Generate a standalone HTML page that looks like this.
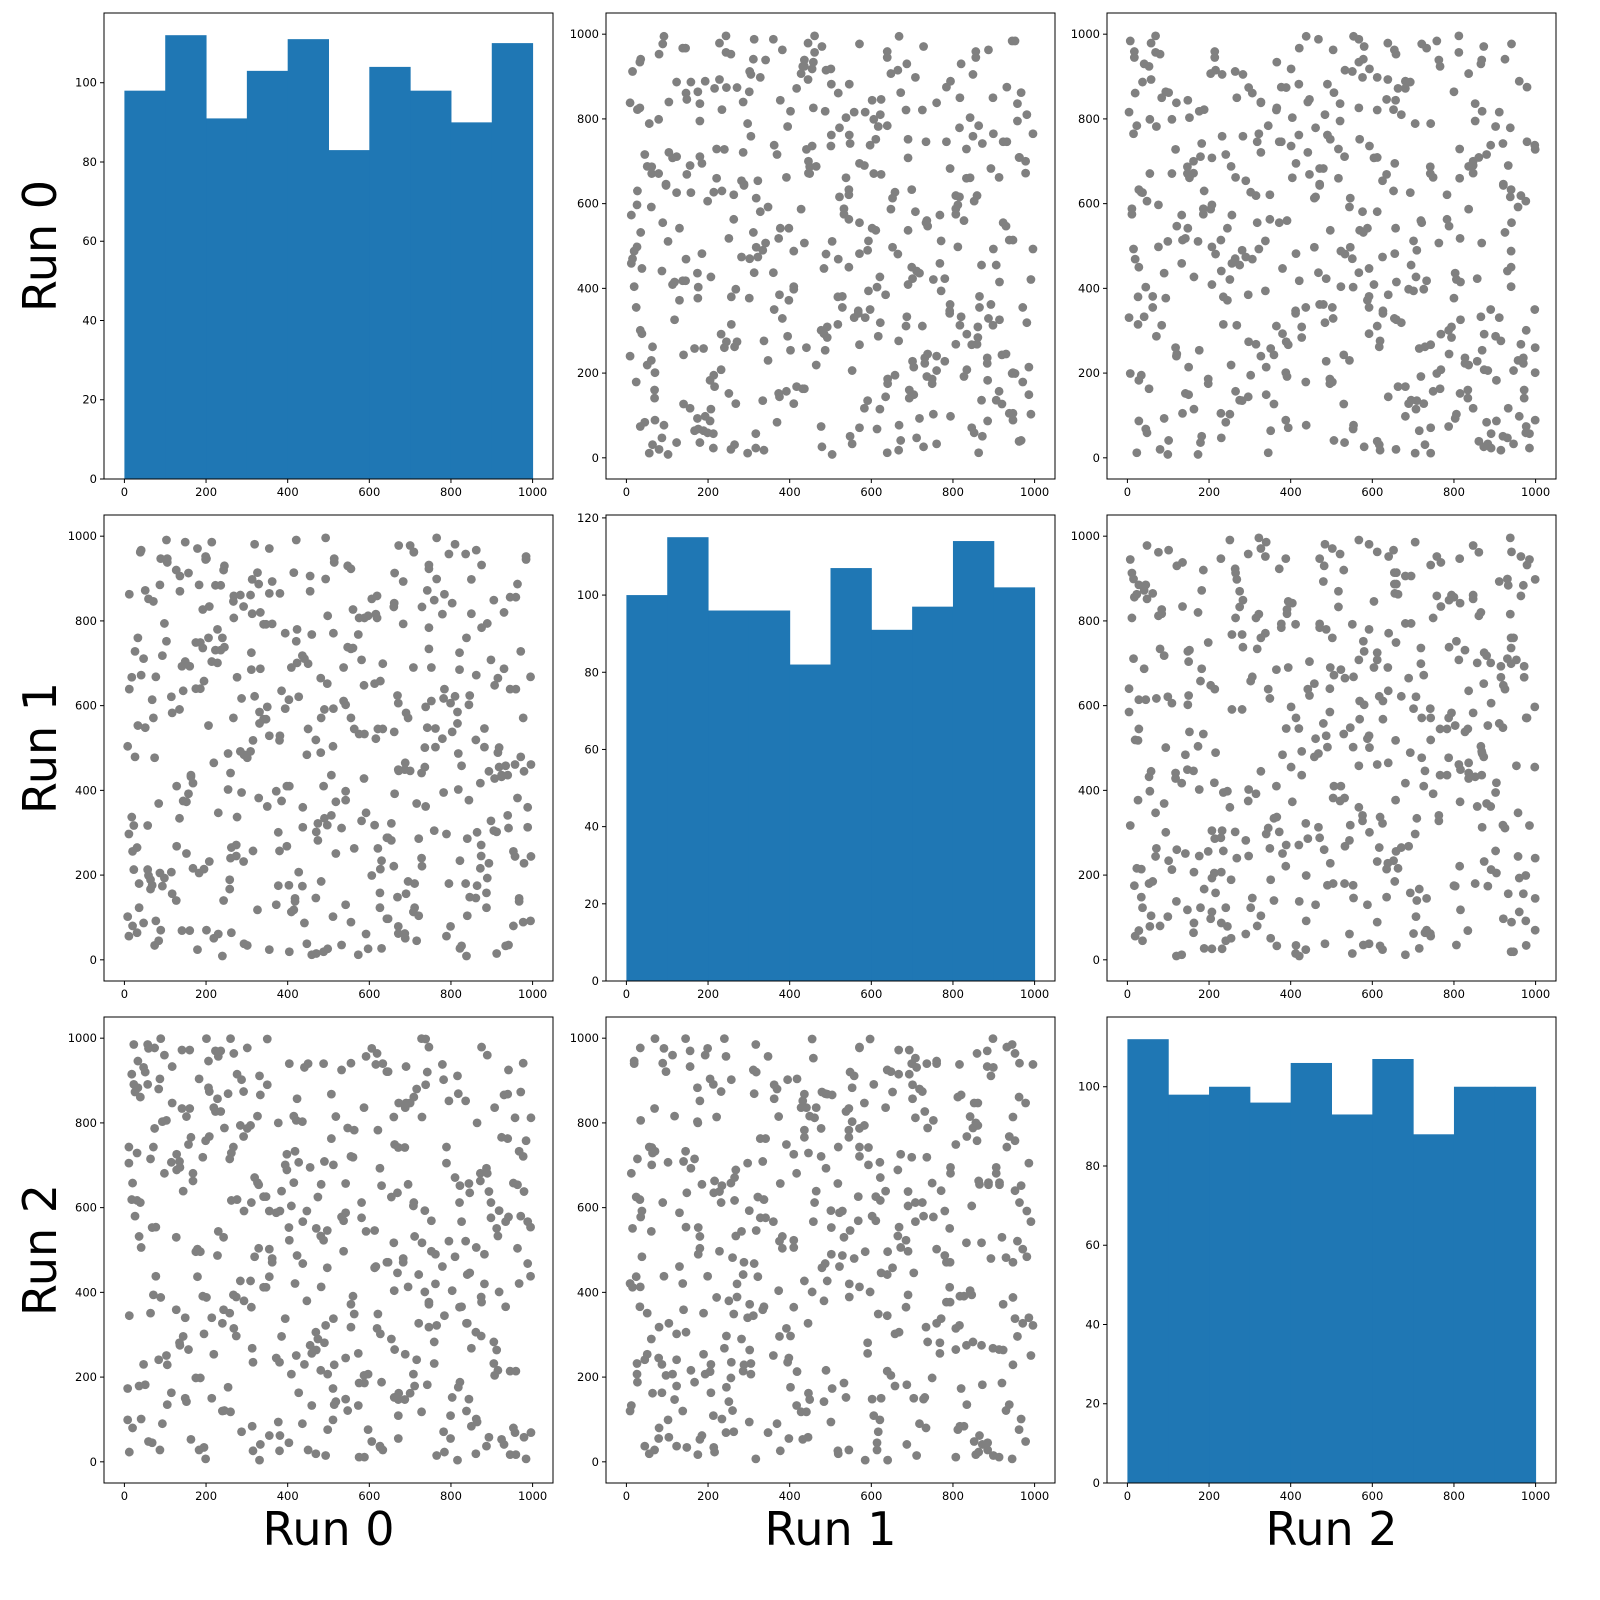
<!DOCTYPE html>
<html><head><meta charset="utf-8"><style>
html,body{margin:0;padding:0;background:#fff}
svg{display:block;font-family:"DejaVu Sans","Liberation Sans",sans-serif}
</style></head><body>
<svg id="chart" width="1600" height="1600" viewBox="0 0 1600 1600" xmlns="http://www.w3.org/2000/svg"></svg>
<script>
const runLabels = ["Run 0","Run 1","Run 2"];
const hist0 = [98,112,91,103,111,83,104,98,90,110];
const hist1 = [100,115,96,96,82,107,91,97,114,102];
const hist2 = [112,98,100,96,106,93,107,88,100,100];
const xTicks = [0,200,400,600,800,1000];
const scatterYTicks = [0,200,400,600,800,1000];
const run0 = [512,87,934,245,671,403,18,759,326,882,141,597,963,274,450,709,36,818,192,555,627,988,313,74,846,421,260,695,149,532,907,381,11,784,643,228,469,872,105,350,995,573,208,736,59,490,311,864,672,127,404,945,262,588,33,721,810,157,436,979,293,619,84,752,518,199,887,347,661,23,915,470,236,799,128,555,690,372,41,953,284,616,822,175,507,765,64,331,898,441,219,683,957,115,385,746,592,8,836,267,474,930,163,708,355,51,621,889,240,497,782,136,418,971,315,660,89,542,844,201,729,380,26,967,455,287,613,838,98,563,742,179,409,924,333,654,71,795,511,230,875,144,427,996,362,688,47,581,816,258,493,939,186,630,779,309,20,862,542,117,746,398,671,223,912,481,57,803,341,626,984,152,537,716,268,447,893,93,662,319,840,206,575,31,959,488,243,700,377,821,135,606,918,292,459,77,738,514,168,861,423,646,12,789,355,587,941,214,482,728,103,669,301,850,437,195,977,560,254,711,39,633,874,329,498,160,762,415,905,276,68,687,547,826,183,394];
const run1 = [771,205,458,930,62,614,337,849,118,502,693,26,887,271,545,962,180,402,736,89,658,313,817,477,148,991,240,571,704,35,428,865,297,639,97,780,519,216,947,362,668,12,834,455,199,591,725,301,978,140,410,856,64,533,760,286,622,913,174,445,38,807,369,690,251,952,123,568,842,317,489,15,731,606,268,923,156,398,672,80,861,522,234,749,436,996,167,585,328,711,51,893,461,207,635,784,347,102,958,571,282,820,432,690,24,872,545,193,760,318,617,906,138,479,257,833,70,602,377,947,221,518,728,145,870,395,652,9,794,263,548,971,113,436,687,322,846,180,504,61,932,375,621,244,793,465,87,708,558,189,899,341,640,27,816,492,256,967,130,583,734,410,79,884,302,665,213,538,792,158,945,373,611,45,859,484,228,718,392,981,104,553,807,265,639,19,920,446,175,685,334,852,501,232,768,92,597,938,417,146,701,288,863,56,529,648,311,986,185,441,752,624,34,898,360,214,571,827,487,123,963,699,245,382,812,69,546,914,305,667,176,449,738,33,885,593,260,708,418,952];
const run2 = [338,904,567,121,742,45,619,283,816,490,972,207,654,389,28,861,532,176,719,941,302,468,84,787,635,251,999,413,150,578,836,62,705,345,921,487,19,663,229,890,554,133,768,401,976,281,612,94,847,359,523,17,729,186,946,442,671,265,803,58,592,315,880,497,142,758,37,626,404,985,216,551,827,109,689,372,933,245,506,80,794,461,652,198,868,322,715,4,576,931,254,480,812,163,639,377,957,99,521,743,290,866,53,604,437,182,783,960,327,546,71,695,421,873,235,517,999,148,657,388,814,26,580,733,275,902,458,120,681,349,920,502,207,766,41,625,394,852,173,544,979,296,707,69,471,836,230,612,911,351,15,763,496,188,938,427,658,101,588,847,318,726,55,970,264,533,891,152,412,693,7,815,569,241,964,380,638,90,749,484,327,883,11,617,214,940,530,162,800,365,709,48,593,874,256,438,998,135,681,306,857,471,23,743,592,204,925,340,655,118,806,446,977,268,567,34,721,391,869,179,612,940,297,504,76,834,420,659,232,915,553,147,788,366,28,701,482,953,213,640];
const runs = [run0, run1, run2];
const hists = [hist0, hist1, hist2];

const NS = "http://www.w3.org/2000/svg";
const svg = document.getElementById("chart");
const colX = [104, 606, 1107];
const rowY = [13, 515, 1017];
const W = 449, H = 466;

function mk(tag, attrs, parent){
  const e = document.createElementNS(NS, tag);
  for (const k in attrs) e.setAttribute(k, attrs[k]);
  (parent || svg).appendChild(e);
  return e;
}
function xScale(c){ return v => colX[c] + (v + 50) / 1100 * W; }
function yScatter(r){ return v => rowY[r] + H - (v + 50) / 1100 * H; }
const defs = mk("defs", {});

for (let r = 0; r < 3; r++) {
  for (let c = 0; c < 3; c++) {
    const cp = mk("clipPath", {id: "clip" + r + c}, defs);
    mk("rect", {x: colX[c], y: rowY[r], width: W, height: H}, cp);
    const g = mk("g", {});
    
    
    const marks = mk("g", {"clip-path": "url(#clip" + r + c + ")"}, g);
    const sx = xScale(c);
    let sy, yTicks;
    if (r === c) {
      const counts = hists[r];
      const ymax = Math.max(...counts) * 1.05;
      sy = v => rowY[r] + H - v / ymax * H;
      yTicks = [];
      for (let t = 0; t <= ymax; t += 20) yTicks.push(t);
      counts.forEach((n, i) => {
        const x0 = sx(i * 100), x1 = sx((i + 1) * 100);
        const b = mk("rect", {x: x0, y: sy(n), width: x1 - x0 + 0.5, height: sy(0) - sy(n), fill: "#1f77b4"}, marks);
        
        
      });
    } else {
      sy = yScatter(r);
      yTicks = scatterYTicks;
      const xs = runs[c], ys = runs[r];
      const n = Math.min(xs.length, ys.length);
      for (let k = 0; k < n; k++) {
        const p = mk("circle", {cx: sx(xs[k]), cy: sy(ys[k]), r: 4.4, fill: "#808080"}, marks);
        
        
        const q = mk("circle", {cx: sx(xs[k]), cy: sy(ys[n - 1 - k]), r: 4.4, fill: "#808080"}, marks);
        
        
      }
    }
    const frame = mk("rect", {x: colX[c], y: rowY[r], width: W, height: H, fill: "none", stroke: "#000", "stroke-width": 1}, g);
    
    
    const yb = rowY[r] + H;
    xTicks.forEach(t => {
      const x = sx(t);
      mk("line", {x1: x, x2: x, y1: yb, y2: yb + 4, stroke: "#000"}, g);
      const lb = mk("text", {x: x, y: yb + 17, "font-size": 11.5, "text-anchor": "middle"}, g);
      lb.textContent = t;
      
      
    });
    yTicks.forEach(t => {
      const y = sy(t);
      mk("line", {x1: colX[c] - 4, x2: colX[c], y1: y, y2: y, stroke: "#000"}, g);
      const lb = mk("text", {x: colX[c] - 7, y: y + 4, "font-size": 11.5, "text-anchor": "end"}, g);
      lb.textContent = t;
      
      
    });
  }
}
for (let i = 0; i < 3; i++) {
  const cy = rowY[i] + H / 2;
  const rl = mk("text", {x: 0, y: 0, "font-size": 46, "text-anchor": "middle", transform: "translate(56," + cy + ") rotate(-90)"});
  rl.textContent = runLabels[i];
  
  
  const cl = mk("text", {x: colX[i] + W / 2, y: 1545, "font-size": 46, "text-anchor": "middle"});
  cl.textContent = runLabels[i];
  
  
}
</script>
</body></html>
